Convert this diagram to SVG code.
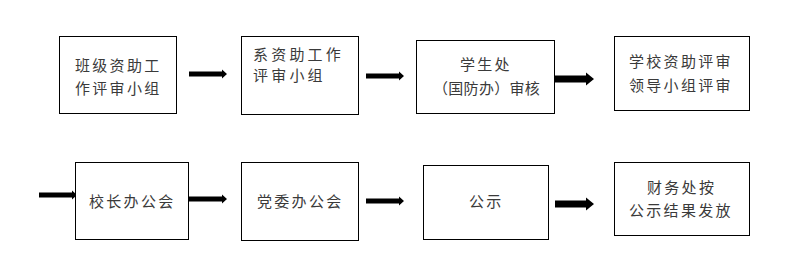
<svg xmlns="http://www.w3.org/2000/svg" width="789" height="275" viewBox="0 0 789 275">
<style>
.box{fill:#fff;stroke:#000;stroke-width:1}
.t{font-family:"Noto Sans CJK SC","Noto Sans CJK JP",sans-serif;font-size:15px;fill:#3a3a3a;letter-spacing:2.3px}
.w{letter-spacing:3.2px}
.n{letter-spacing:0.3px}
.arr{fill:#000}
</style>
<rect width="789" height="275" fill="#fff"/>
<g id="connectors">
<polygon class="arr" points="189,71.5 222,71.5 222,69.5 227,74 222,78.5 222,76.5 189,76.5"/>
<polygon class="arr" points="366,73.5 399,73.5 399,71.5 404,76 399,80.5 399,78.5 366,78.5"/>
<polygon class="arr" points="555,75.5 586,75.5 586,72.5 594,79 586,85.5 586,82.5 555,82.5"/>
<polygon class="arr" points="39,192.5 72,192.5 72,190.5 77,195 72,199.5 72,197.5 39,197.5"/>
<polygon class="arr" points="189,196.5 222,196.5 222,194.5 227,199 222,203.5 222,201.5 189,201.5"/>
<polygon class="arr" points="366,198.5 399,198.5 399,196.5 404,201 399,205.5 399,203.5 366,203.5"/>
<polygon class="arr" points="555,200.5 586,200.5 586,197.5 594,204 586,210.5 586,207.5 555,207.5"/>
</g>
<g id="n1">
<rect class="box" x="59.5" y="36.5" width="117" height="77"/>
<text class="t" x="75" y="70.7">班级资助工</text>
<text class="t" x="75" y="93.7">作评审小组</text>
</g>
<g id="n2">
<rect class="box" x="241.5" y="36.5" width="117" height="78"/>
<text class="t w" x="253" y="60">系资助工作</text>
<text class="t w" x="253" y="80.7">评审小组</text>
</g>
<g id="n3">
<rect class="box" x="416.5" y="40.5" width="138" height="73"/>
<text class="t" x="460" y="70">学生处</text>
<text class="t n" x="433" y="94">（国防办）审核</text>
</g>
<g id="n4">
<rect class="box" x="614.5" y="36.5" width="135" height="74"/>
<text class="t" x="629" y="67.4">学校资助评审</text>
<text class="t" x="629" y="90.7">领导小组评审</text>
</g>
<g id="n5">
<rect class="box" x="75.5" y="162.5" width="113" height="77"/>
<text class="t" x="89" y="207.4">校长办公会</text>
</g>
<g id="n6">
<rect class="box" x="241.5" y="162.5" width="117" height="78"/>
<text class="t" x="257" y="207.4">党委办公会</text>
</g>
<g id="n7">
<rect class="box" x="423.5" y="165.5" width="125" height="74"/>
<text class="t" x="469" y="207.4">公示</text>
</g>
<g id="n8">
<rect class="box" x="614.5" y="162.5" width="135" height="73"/>
<text class="t" x="647" y="193">财务处按</text>
<text class="t" x="629" y="216.4">公示结果发放</text>
</g>
</svg>
